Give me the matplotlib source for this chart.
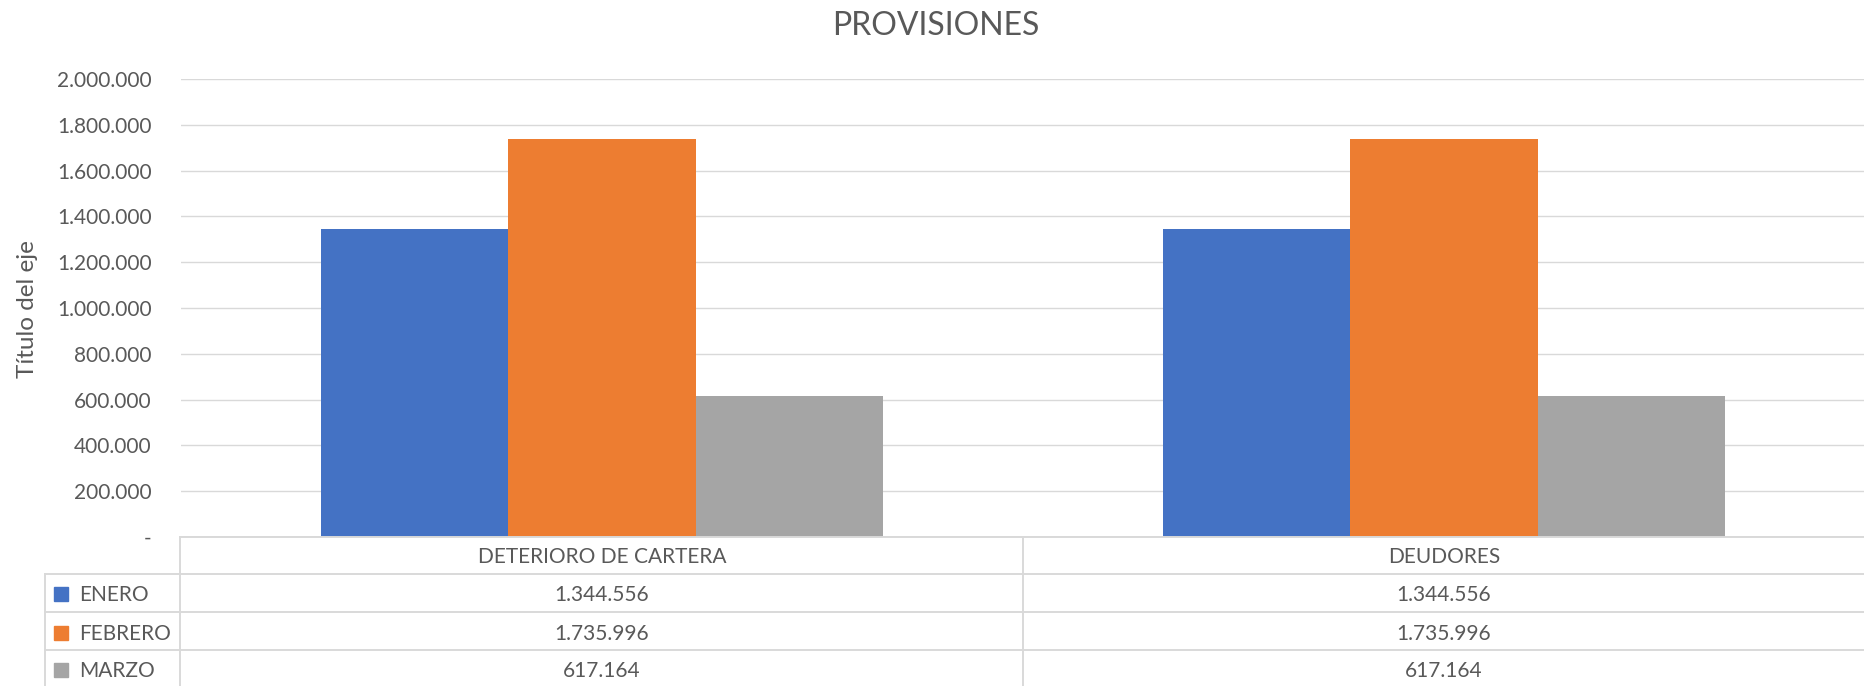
import matplotlib
matplotlib.use("Agg")
import matplotlib.pyplot as plt
import matplotlib.transforms as mtransforms
from matplotlib.lines import Line2D
from matplotlib.patches import Rectangle
from matplotlib.ticker import FuncFormatter, MultipleLocator
import numpy as np

plt.rcParams['font.family'] = ['Lato', 'DejaVu Sans']

# ---------------- data ----------------
categories = ["DETERIORO DE CARTERA", "DEUDORES"]
series_names = ["ENERO", "FEBRERO", "MARZO"]
enero = [1344556, 1344556]
febrero = [1735996, 1735996]
marzo = [617164, 617164]
title = "PROVISIONES"
y_label = "Título del eje"

series_values = [enero, febrero, marzo]
colors = ["#4472C4", "#ED7D31", "#A5A5A5"]
TXT = "#595959"
GRID = "#D9D9D9"

W, H = 1865, 686
fig = plt.figure(figsize=(W / 100, H / 100), dpi=100)


def fx(p):
    return p / W


def fy(p):
    return 1 - p / H


ax_left, ax_right, ax_top, ax_bot = 181, 1865, 79, 537
ax = fig.add_axes([fx(ax_left), fy(ax_bot), fx(ax_right - ax_left), (ax_bot - ax_top) / H])

x = np.arange(len(categories))
bw = 1 / 4.5
for i, (name, vals) in enumerate(zip(series_names, series_values)):
    ax.bar(x + (i - 1) * bw, vals, width=bw, color=colors[i], zorder=2, linewidth=0)

ax.set_xlim(-0.5, len(categories) - 0.5)
ax.set_ylim(0, 2000000)
ax.yaxis.set_major_locator(MultipleLocator(200000))


def fmt(v, pos=None):
    if abs(v) < 1e-9:
        return "-"
    return f"{v:,.0f}".replace(",", ".")


ax.yaxis.set_major_formatter(FuncFormatter(fmt))
ax.grid(axis='y', color=GRID, linewidth=1.0, zorder=0)
ax.set_axisbelow(True)
for s in ax.spines.values():
    s.set_visible(False)
ax.set_xticks([])
ax.tick_params(axis='y', length=0, pad=21, labelsize=15, labelcolor=TXT)

# title and axis label
fig.text(fx(936), fy(35), title, ha='center', va='baseline', fontsize=23, color=TXT)
fig.text(fx(28), fy(309), y_label, ha='center', va='center', rotation=90, fontsize=17.5, color=TXT)

# ---------------- data table ----------------
blend = mtransforms.blended_transform_factory(ax.transData, fig.transFigure)
lw_t = 1.4
row_lines = [537, 574, 612, 650, 688]
# header top line (axis line)
fig.add_artist(Line2D([fx(180), fx(W)], [fy(537), fy(537)], color=GRID, lw=lw_t, transform=fig.transFigure))
for yp in row_lines[1:]:
    fig.add_artist(Line2D([fx(45), fx(W)], [fy(yp), fy(yp)], color=GRID, lw=lw_t, transform=fig.transFigure))
# vertical lines
fig.add_artist(Line2D([fx(180), fx(180)], [fy(537), fy(H + 5)], color=GRID, lw=lw_t, transform=fig.transFigure))
fig.add_artist(Line2D([fx(45), fx(45)], [fy(574), fy(H + 5)], color=GRID, lw=lw_t, transform=fig.transFigure))
for b in np.arange(0.5, len(categories) - 0.5, 1.0):
    fig.add_artist(Line2D([b, b], [fy(537), fy(H + 5)], color=GRID, lw=lw_t, transform=blend))

# header texts
for xi, cat in zip(x, categories):
    fig.text(xi, fy(563), cat, ha='center', va='baseline', fontsize=15, color=TXT, transform=blend)

row_base = [601, 640, 677]
for i, (name, vals) in enumerate(zip(series_names, series_values)):
    yb = row_base[i]
    fig.add_artist(Rectangle((fx(54), fy(yb)), fx(14), 14 / H, color=colors[i], transform=fig.transFigure))
    fig.text(fx(79), fy(yb), name, ha='left', va='baseline', fontsize=15, color=TXT)
    for xi, v in zip(x, vals):
        fig.text(xi, fy(yb), fmt(v), ha='center', va='baseline', fontsize=15, color=TXT, transform=blend)

fig.savefig("out.png", dpi=100)
